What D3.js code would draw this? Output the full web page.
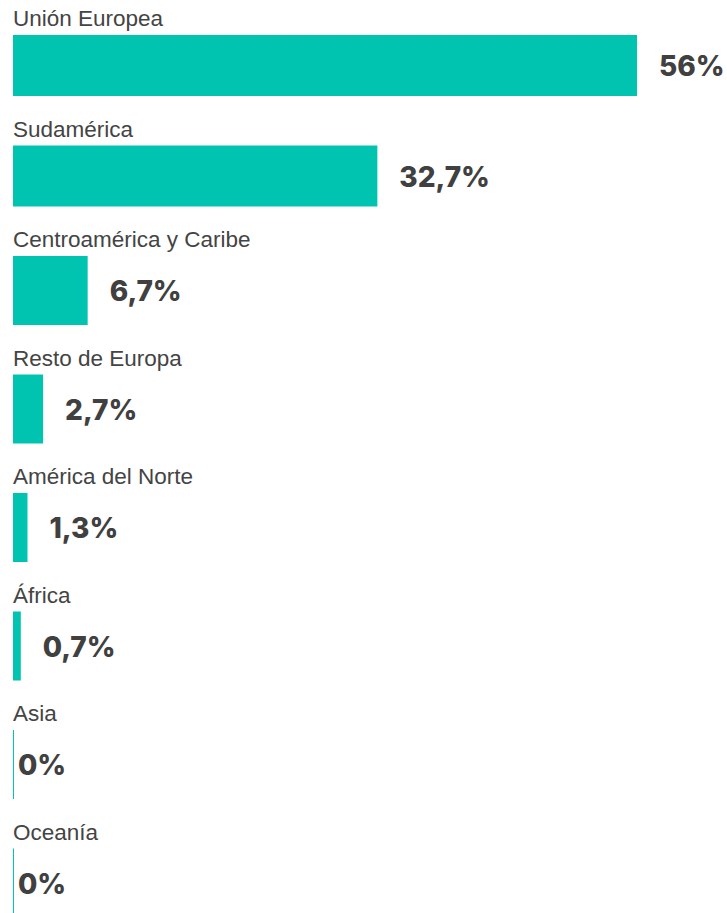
<!DOCTYPE html>
<html>
<head>
<meta charset="utf-8">
<script src="https://cdn.jsdelivr.net/npm/d3@7"></script>
<style>
    body { margin: 0; background: #fff; }
    .label { font-family: 'Liberation Sans', Arial, sans-serif; font-size: 22.5px; fill: #444; }
    .value { font-family: Inter, 'DejaVu Sans', sans-serif; font-size: 28px; font-weight: 800; fill: #404040; }
</style>
</head>
<body>
<div id="chart"></div>
<script>
//Datos
const REGIONES = ['Unión Europea', 'Sudamérica', 'Centroamérica y Caribe', 'Resto de Europa', 'América del Norte', 'África', 'Asia', 'Oceanía'];
const PORCENTAJES = [56, 32.7, 6.7, 2.7, 1.3, 0.7, 0, 0];

//Colores
const COLOR_BAR = '#00C4B0';

let width = 727, height = 913;
let marginLeft = 13;

let svg = d3.select('#chart')
    .append('svg')
        .attr('width', width)
        .attr('height', height);

let x = d3.scaleLinear()
    .domain([0, d3.max(PORCENTAJES)])
    .range([0, 624]);

//Altura de cada barra: las dos primeras son algo más bajas
function barHeight(i) { return i < 2 ? 61 : 69; }

//Posición vertical de cada fila
let tops = [];
let cursor = 35;
REGIONES.forEach(function(d, i) {
    tops.push(cursor);
    cursor += barHeight(i) + 49.5;
});

let data = REGIONES.map(function(d, i) { return { region: d, valor: PORCENTAJES[i], top: tops[i], h: barHeight(i) }; });

let rows = svg.selectAll('.row')
    .data(data)
    .enter()
    .append('g')
    .attr('class', 'row')
    .attr('transform', function(d) { return 'translate(' + marginLeft + ',' + d.top + ')'; });

rows.append('text')
    .attr('class', 'label')
    .attr('x', 0)
    .attr('y', -9)
    .text(function(d) { return d.region; });

rows.append('rect')
    .attr('x', 0)
    .attr('y', 0)
    .attr('width', function(d) { return Math.max(1, x(d.valor)); })
    .attr('height', function(d) { return d.h; })
    .attr('fill', COLOR_BAR);

rows.append('text')
    .attr('class', 'value')
    .attr('x', function(d) { return d.valor > 0 ? x(d.valor) + 22 : 5; })
    .attr('y', function(d) { return d.h / 2 + 10.5; })
    .text(function(d) { return String(d.valor).replace('.', ',') + '%'; });
</script>
</body>
</html>
